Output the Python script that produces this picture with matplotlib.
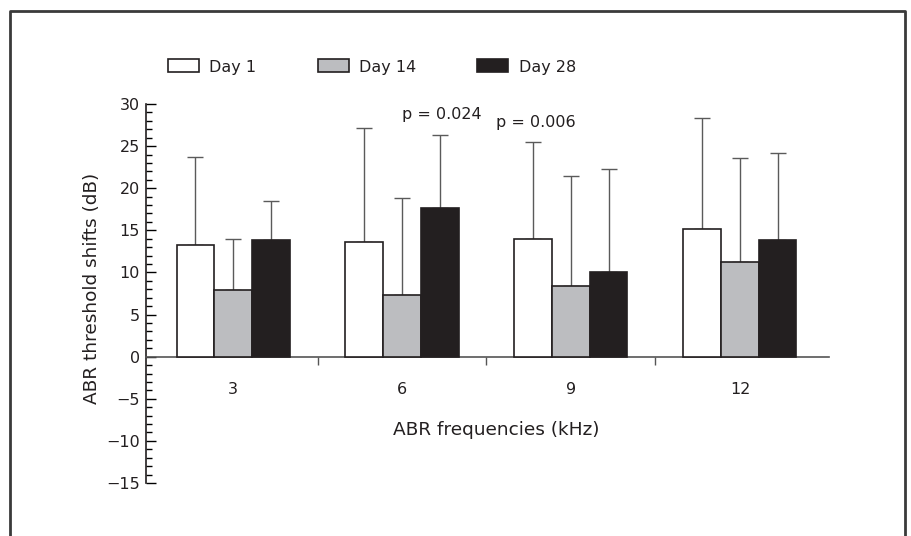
import matplotlib
matplotlib.use("Agg")
import matplotlib.pyplot as plt
import numpy as np
from matplotlib.patches import Patch
from matplotlib.lines import Line2D
from matplotlib.ticker import MultipleLocator

plt.rcParams['font.family'] = ['DejaVu Sans']

frequencies = ['3', '6', '9', '12']
series = ['Day 1', 'Day 14', 'Day 28']
day1 = [13.2, 13.6, 14.0, 15.1]
day14 = [7.9, 7.3, 8.4, 11.2]
day28 = [13.8, 17.6, 10.1, 13.8]
day1_err = [10.5, 13.6, 11.5, 13.2]
day14_err = [6.1, 11.5, 13.0, 12.4]
day28_err = [4.7, 8.7, 12.2, 10.4]
p_labels = ['p = 0.024', 'p = 0.006']

colors = ['white', '#bcbdc0', '#231f20']
txt = '#231f20'

fig = plt.figure(figsize=(9.11, 5.36), dpi=100)
ax = fig.add_axes([146/911, 1-483/536, 683/911, 379/536])

x = np.arange(len(frequencies))
w = 0.223
vals = [day1, day14, day28]
errs = [day1_err, day14_err, day28_err]
handles = []
for i, (v, e, c, s) in enumerate(zip(vals, errs, colors, series)):
    pos = x + (i - 1) * w
    ax.bar(pos, v, width=w, color=c, edgecolor='#231f20', linewidth=1.2, zorder=3)
    ax.errorbar(pos, v, yerr=[np.zeros(len(e)), e], fmt='none', ecolor='#5a5a5a',
                elinewidth=1.0, capsize=5.5, capthick=1.0, zorder=2)
    handles.append(Patch(facecolor=c, edgecolor='#231f20', linewidth=1.2, label=s))

ax.set_xlim(-0.515, 3.527)
ax.set_ylim(-15, 30)

for sp in ['top', 'right']:
    ax.spines[sp].set_visible(False)
ax.spines['bottom'].set_position(('data', 0))
ax.spines['bottom'].set_color('#555555')
ax.spines['left'].set_color('#231f20')
ax.spines['left'].set_linewidth(1.2)
ax.spines['bottom'].set_linewidth(1.2)

ax.yaxis.set_major_locator(MultipleLocator(5))
ax.yaxis.set_minor_locator(MultipleLocator(1))
ax.tick_params(axis='y', which='major', direction='in', length=7.5, width=1.0, pad=4.5,
               labelsize=11.5, labelcolor=txt)
ax.tick_params(axis='y', which='minor', direction='in', length=4.5, width=1.0)
ax.set_yticklabels([('\u2212' + str(-int(t))) if t < 0 else str(int(t)) for t in ax.get_yticks()])

ax.set_xticks(x)
ax.set_xticklabels(frequencies)
ax.set_xticks([0.5, 1.5, 2.5], minor=True)
ax.tick_params(axis='x', which='major', length=0, pad=18.5, labelsize=11.5, labelcolor=txt)
ax.tick_params(axis='x', which='minor', direction='out', length=6, width=1.0, color='#555555')

fig.text(92/911, 1-288/536, 'ABR threshold shifts (dB)', rotation=90, ha='center', va='center',
         fontsize=13.3, color=txt)
fig.text(496/911, 1-430/536, 'ABR frequencies (kHz)', ha='center', va='center',
         fontsize=13.3, color=txt)

ax.text(0.998, 28.8, p_labels[0], ha='left', va='center', fontsize=11.5, color=txt)
ax.text(1.554, 27.8, p_labels[1], ha='left', va='center', fontsize=11.5, color=txt)

fig.legend(handles=handles, loc='center left', bbox_to_anchor=(168/911, 1-67/536),
           ncol=3, frameon=False, borderpad=0, borderaxespad=0, fontsize=11.5,
           handlelength=1.94, handleheight=0.875, handletextpad=0.63, columnspacing=3.85,
           labelcolor=txt)

# outer frame
fig.add_artist(Line2D([9.5/911, 9.5/911, 905/911, 905/911], [0, 1-11/536, 1-11/536, 0],
                      transform=fig.transFigure, color='#3a3a3a', linewidth=2.0))

fig.savefig('out.png', dpi=100)
